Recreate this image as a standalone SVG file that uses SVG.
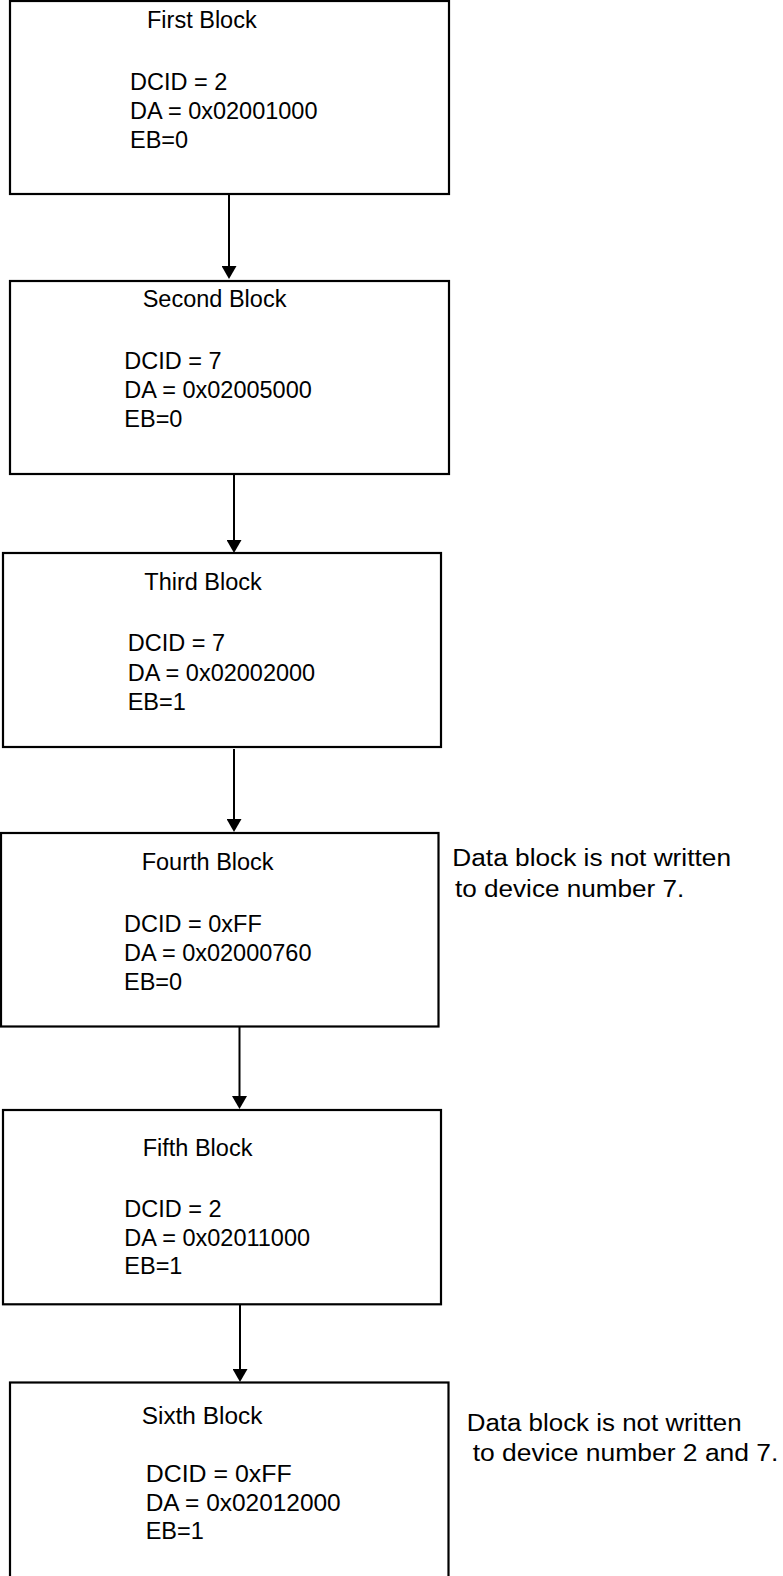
<svg xmlns="http://www.w3.org/2000/svg" width="783" height="1576" viewBox="0 0 783 1576">
<defs>
<style>
.box{fill:#fff;stroke:#000;stroke-width:2.2}
.t{font-family:"Liberation Sans",Arial,Helvetica,sans-serif;font-size:23.5px;fill:#000}
.n{font-family:"Liberation Sans",Arial,Helvetica,sans-serif;font-size:23px;fill:#000}
.c{stroke:#000;stroke-width:2;fill:none;marker-end:url(#ah)}
</style>
<marker id="ah" viewBox="0 0 13 15" refX="7" refY="7.5" markerWidth="13" markerHeight="15" markerUnits="userSpaceOnUse" orient="auto">
<path d="M0,0 L13,7.5 L0,15 Z" fill="#000"/>
</marker>
</defs>
<rect width="783" height="1576" fill="#fff"/>
<g id="connectors">
<line class="c" x1="229" y1="195" x2="229" y2="273"/>
<line class="c" x1="234" y1="475" x2="234" y2="547"/>
<line class="c" x1="234" y1="749" x2="234" y2="826"/>
<line class="c" x1="239.5" y1="1027" x2="239.5" y2="1103"/>
<line class="c" x1="240" y1="1303" x2="240" y2="1376"/>
</g>
<g id="block1">
<rect class="box" x="10" y="1" width="439" height="193"/>
<text class="t" x="147" y="27.5">First Block</text>
<text class="t" x="130" y="89.5">DCID = 2</text>
<text class="t" x="130" y="118.5">DA = 0x02001000</text>
<text class="t" x="130" y="147.5">EB=0</text>
</g>
<g id="block2">
<rect class="box" x="10" y="281" width="439" height="193"/>
<text class="t" x="142.7" y="306.7">Second Block</text>
<text class="t" x="124.3" y="369">DCID = 7</text>
<text class="t" x="124.3" y="398">DA = 0x02005000</text>
<text class="t" x="124.3" y="426.7">EB=0</text>
</g>
<g id="block3">
<rect class="box" x="3" y="553" width="438" height="194"/>
<text class="t" x="144.3" y="590">Third Block</text>
<text class="t" x="127.7" y="650.7">DCID = 7</text>
<text class="t" x="127.7" y="680.5">DA = 0x02002000</text>
<text class="t" x="127.7" y="710">EB=1</text>
</g>
<g id="block4">
<rect class="box" x="1" y="833" width="437.5" height="193.5"/>
<text class="t" x="141.7" y="869.5">Fourth Block</text>
<text class="t" x="124" y="931.7">DCID = 0xFF</text>
<text class="t" x="124" y="960.5">DA = 0x02000760</text>
<text class="t" x="124" y="989.5">EB=0</text>
</g>
<g id="note1">
<text class="n" x="452.3" y="865.7" textLength="278.7" lengthAdjust="spacingAndGlyphs">Data block is not written</text>
<text class="n" x="455" y="896.7" textLength="229.3" lengthAdjust="spacingAndGlyphs">to device number 7.</text>
</g>
<g id="block5">
<rect class="box" x="3" y="1110" width="438" height="194.3"/>
<text class="t" x="142.7" y="1155.7">Fifth Block</text>
<text class="t" x="124.3" y="1216.7">DCID = 2</text>
<text class="t" x="124.3" y="1245.7">DA = 0x02011000</text>
<text class="t" x="124.3" y="1274.3">EB=1</text>
</g>
<g id="block6">
<rect class="box" x="10" y="1382.5" width="438.5" height="200"/>
<text class="t" x="141.7" y="1424" textLength="120.7" lengthAdjust="spacingAndGlyphs">Sixth Block</text>
<text class="t" x="145.7" y="1481.7" textLength="146" lengthAdjust="spacingAndGlyphs">DCID = 0xFF</text>
<text class="t" x="145.7" y="1510.7" textLength="195" lengthAdjust="spacingAndGlyphs">DA = 0x02012000</text>
<text class="t" x="145.7" y="1539.3">EB=1</text>
</g>
<g id="note2">
<text class="n" x="466.7" y="1430.7" textLength="275" lengthAdjust="spacingAndGlyphs">Data block is not written</text>
<text class="n" x="472.7" y="1460.7" textLength="305.7" lengthAdjust="spacingAndGlyphs">to device number 2 and 7.</text>
</g>
</svg>
